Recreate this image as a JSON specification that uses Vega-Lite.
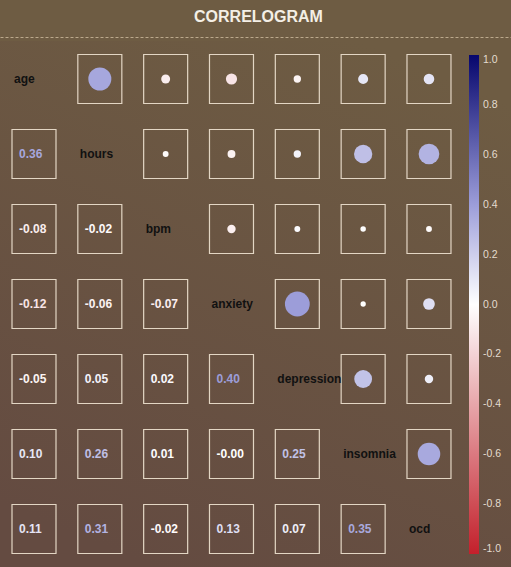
{
  "$schema": "https://vega.github.io/schema/vega-lite/v6.json",
  "width": 511,
  "height": 526,
  "autosize": {"type": "none"},
  "padding": {"left": 0, "top": 41, "right": 0, "bottom": 0},
  "background": "#6e5c43",
  "title": {"text": "CORRELOGRAM", "color": "#f4efe6", "fontSize": 16, "fontWeight": "bold", "font": "Liberation Sans", "anchor": "middle", "offset": 12, "dx": 3},
  "config": {
    "view": {"stroke": null},
    "locale": {"number": {"decimal": ".", "thousands": ",", "grouping": [3], "currency": ["$", ""], "minus": "-"}}
  },
  "layer": [
    {
      "data": {"values": [{"bg": 1}]},
      "mark": {"type": "rect", "fill": {"gradient": "linear", "x1": 0.7, "y1": 0, "x2": 0.3, "y2": 1, "stops": [{"offset": 0, "color": "#6e5c43"}, {"offset": 1, "color": "#644b41"}]}},
      "encoding": {}
    },
    {
      "data": {"values": [
        {"row": "age", "col": "age", "part": "diag", "r": null, "txt": "age"},
        {"row": "age", "col": "hours", "part": "upper", "r": 0.36, "txt": "0.36"},
        {"row": "age", "col": "bpm", "part": "upper", "r": -0.08, "txt": "-0.08"},
        {"row": "age", "col": "anxiety", "part": "upper", "r": -0.12, "txt": "-0.12"},
        {"row": "age", "col": "depression", "part": "upper", "r": -0.05, "txt": "-0.05"},
        {"row": "age", "col": "insomnia", "part": "upper", "r": 0.10, "txt": "0.10"},
        {"row": "age", "col": "ocd", "part": "upper", "r": 0.11, "txt": "0.11"},
        {"row": "hours", "col": "age", "part": "lower", "r": 0.36, "txt": "0.36"},
        {"row": "hours", "col": "hours", "part": "diag", "r": null, "txt": "hours"},
        {"row": "hours", "col": "bpm", "part": "upper", "r": -0.02, "txt": "-0.02"},
        {"row": "hours", "col": "anxiety", "part": "upper", "r": -0.06, "txt": "-0.06"},
        {"row": "hours", "col": "depression", "part": "upper", "r": 0.05, "txt": "0.05"},
        {"row": "hours", "col": "insomnia", "part": "upper", "r": 0.26, "txt": "0.26"},
        {"row": "hours", "col": "ocd", "part": "upper", "r": 0.31, "txt": "0.31"},
        {"row": "bpm", "col": "age", "part": "lower", "r": -0.08, "txt": "-0.08"},
        {"row": "bpm", "col": "hours", "part": "lower", "r": -0.02, "txt": "-0.02"},
        {"row": "bpm", "col": "bpm", "part": "diag", "r": null, "txt": "bpm"},
        {"row": "bpm", "col": "anxiety", "part": "upper", "r": -0.07, "txt": "-0.07"},
        {"row": "bpm", "col": "depression", "part": "upper", "r": 0.02, "txt": "0.02"},
        {"row": "bpm", "col": "insomnia", "part": "upper", "r": 0.01, "txt": "0.01"},
        {"row": "bpm", "col": "ocd", "part": "upper", "r": -0.02, "txt": "-0.02"},
        {"row": "anxiety", "col": "age", "part": "lower", "r": -0.12, "txt": "-0.12"},
        {"row": "anxiety", "col": "hours", "part": "lower", "r": -0.06, "txt": "-0.06"},
        {"row": "anxiety", "col": "bpm", "part": "lower", "r": -0.07, "txt": "-0.07"},
        {"row": "anxiety", "col": "anxiety", "part": "diag", "r": null, "txt": "anxiety"},
        {"row": "anxiety", "col": "depression", "part": "upper", "r": 0.40, "txt": "0.40"},
        {"row": "anxiety", "col": "insomnia", "part": "upper", "r": -0.001, "txt": "-0.00"},
        {"row": "anxiety", "col": "ocd", "part": "upper", "r": 0.13, "txt": "0.13"},
        {"row": "depression", "col": "age", "part": "lower", "r": -0.05, "txt": "-0.05"},
        {"row": "depression", "col": "hours", "part": "lower", "r": 0.05, "txt": "0.05"},
        {"row": "depression", "col": "bpm", "part": "lower", "r": 0.02, "txt": "0.02"},
        {"row": "depression", "col": "anxiety", "part": "lower", "r": 0.40, "txt": "0.40"},
        {"row": "depression", "col": "depression", "part": "diag", "r": null, "txt": "depression"},
        {"row": "depression", "col": "insomnia", "part": "upper", "r": 0.25, "txt": "0.25"},
        {"row": "depression", "col": "ocd", "part": "upper", "r": 0.07, "txt": "0.07"},
        {"row": "insomnia", "col": "age", "part": "lower", "r": 0.10, "txt": "0.10"},
        {"row": "insomnia", "col": "hours", "part": "lower", "r": 0.26, "txt": "0.26"},
        {"row": "insomnia", "col": "bpm", "part": "lower", "r": 0.01, "txt": "0.01"},
        {"row": "insomnia", "col": "anxiety", "part": "lower", "r": -0.001, "txt": "-0.00"},
        {"row": "insomnia", "col": "depression", "part": "lower", "r": 0.25, "txt": "0.25"},
        {"row": "insomnia", "col": "insomnia", "part": "diag", "r": null, "txt": "insomnia"},
        {"row": "insomnia", "col": "ocd", "part": "upper", "r": 0.35, "txt": "0.35"},
        {"row": "ocd", "col": "age", "part": "lower", "r": 0.11, "txt": "0.11"},
        {"row": "ocd", "col": "hours", "part": "lower", "r": 0.31, "txt": "0.31"},
        {"row": "ocd", "col": "bpm", "part": "lower", "r": -0.02, "txt": "-0.02"},
        {"row": "ocd", "col": "anxiety", "part": "lower", "r": 0.13, "txt": "0.13"},
        {"row": "ocd", "col": "depression", "part": "lower", "r": 0.07, "txt": "0.07"},
        {"row": "ocd", "col": "insomnia", "part": "lower", "r": 0.35, "txt": "0.35"},
        {"row": "ocd", "col": "ocd", "part": "diag", "r": null, "txt": "ocd"}
      ]},
      "encoding": {
        "x": {"field": "col", "type": "nominal", "sort": ["age", "hours", "bpm", "anxiety", "depression", "insomnia", "ocd"],
              "scale": {"paddingInner": 0.3316, "paddingOuter": 0.547, "align": 0.1666},
              "axis": {"orient": "top", "labels": false, "ticks": false, "title": null, "grid": false, "domain": true, "domainDash": [3, 2], "domainColor": "#bca98c", "domainWidth": 1, "offset": 4}},
        "y": {"field": "row", "type": "nominal", "sort": ["age", "hours", "bpm", "anxiety", "depression", "insomnia", "ocd"],
              "scale": {"paddingInner": 0.3467, "paddingOuter": 0.18, "align": 0.5}, "axis": null}
      },
      "layer": [
        {
          "transform": [{"filter": "datum.part != 'diag'"}],
          "mark": {"type": "rect", "fill": null, "stroke": "#e3d6c4", "strokeWidth": 1.2}
        },
        {
          "transform": [{"filter": {"field": "part", "equal": "upper"}}],
          "mark": {"type": "circle", "opacity": 1},
          "encoding": {
            "size": {"field": "r", "type": "quantitative", "scale": {"type": "pow", "exponent": 1.5, "domain": [-1, 0, 1], "range": [2350, 28, 2350]}, "legend": null},
            "color": {"field": "r", "type": "quantitative",
                      "scale": {"domain": [-1, 0, 0.4, 1], "range": ["#c3202b", "#ffffff", "#9c9dd9", "#06066d"], "interpolate": "rgb"},
                      "legend": {"orient": "none", "legendX": 469, "legendY": 14, "direction": "vertical", "title": null, "gradientLength": 499, "gradientThickness": 10, "gradientStrokeWidth": 0, "values": [1, 0.8, 0.6, 0.4, 0.2, 0, -0.2, -0.4, -0.6, -0.8, -1], "format": ".1f", "labelOffset": 4, "labelFontSize": 10.5, "labelFont": "Liberation Sans", "labelColor": "#e4dccf", "labelOverlap": false, "padding": 0}}
          }
        },
        {
          "transform": [{"filter": {"field": "part", "equal": "lower"}}],
          "mark": {"type": "text", "align": "left", "baseline": "middle", "dx": 7, "fontSize": 12, "fontWeight": "bold", "font": "Liberation Sans"},
          "encoding": {
            "x": {"field": "col", "type": "nominal", "bandPosition": 0, "sort": ["age", "hours", "bpm", "anxiety", "depression", "insomnia", "ocd"],
                  "axis": {"orient": "top", "labels": false, "ticks": false, "title": null, "grid": false, "domain": true, "domainDash": [3, 2], "domainColor": "#bca98c", "domainWidth": 1, "offset": 4}},
            "text": {"field": "txt"},
            "color": {"field": "r", "type": "quantitative",
                      "scale": {"domain": [-1, 0, 0.4, 1], "range": ["#c3202b", "#ffffff", "#9c9dd9", "#06066d"], "interpolate": "rgb"},
                      "legend": {"orient": "none", "legendX": 469, "legendY": 14, "direction": "vertical", "title": null, "gradientLength": 499, "gradientThickness": 10, "gradientStrokeWidth": 0, "values": [1, 0.8, 0.6, 0.4, 0.2, 0, -0.2, -0.4, -0.6, -0.8, -1], "format": ".1f", "labelOffset": 4, "labelFontSize": 10.5, "labelFont": "Liberation Sans", "labelColor": "#e4dccf", "labelOverlap": false, "padding": 0}}
          }
        },
        {
          "transform": [{"filter": {"field": "part", "equal": "diag"}}],
          "mark": {"type": "text", "align": "left", "baseline": "middle", "dx": 2, "fontSize": 12, "fontWeight": "bold", "font": "Liberation Sans", "color": "#111111"},
          "encoding": {
            "x": {"field": "col", "type": "nominal", "bandPosition": 0, "sort": ["age", "hours", "bpm", "anxiety", "depression", "insomnia", "ocd"],
                  "axis": {"orient": "top", "labels": false, "ticks": false, "title": null, "grid": false, "domain": true, "domainDash": [3, 2], "domainColor": "#bca98c", "domainWidth": 1, "offset": 4}},
            "text": {"field": "txt"}
          }
        }
      ]
    }
  ]
}
